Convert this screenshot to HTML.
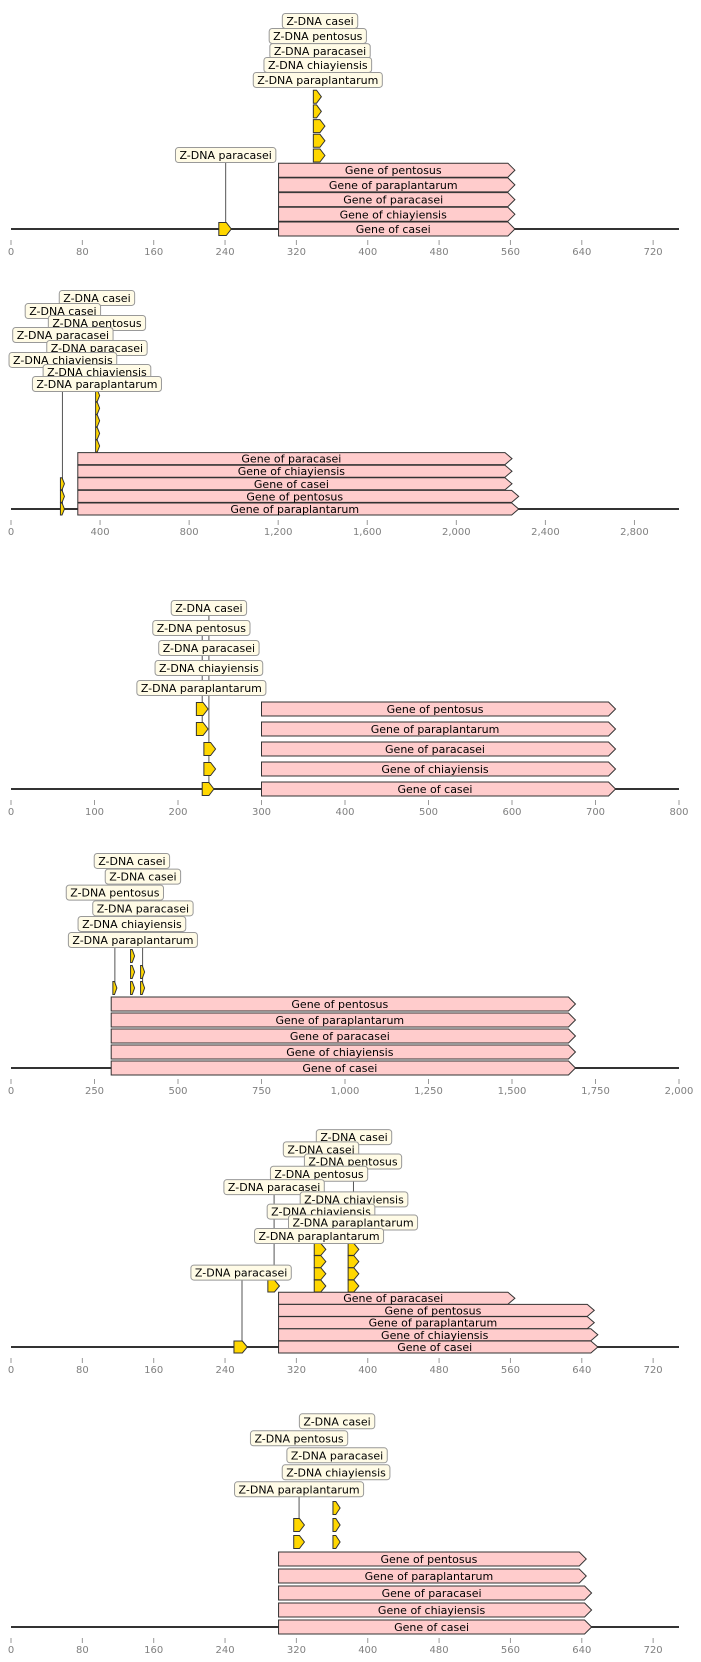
<!DOCTYPE html>
<html><head><meta charset="utf-8">
<style>
html,body{margin:0;padding:0;background:#fff;}
svg{display:block;font-family:"DejaVu Sans","Liberation Sans",sans-serif;}
</style></head>
<body>
<svg id="chart" width="701" height="1662" viewBox="0 0 701 1662" xmlns="http://www.w3.org/2000/svg"></svg>
<script>
// ---------- data ----------
const panelMax = [749, 3000, 800, 2000, 749, 749];
const panelTicks = [
  [0,80,160,240,320,400,480,560,640,720],
  [0,400,800,1200,1600,2000,2400,2800],
  [0,100,200,300,400,500,600,700,800],
  [0,250,500,750,1000,1250,1500,1750,2000],
  [0,80,160,240,320,400,480,560,640,720],
  [0,80,160,240,320,400,480,560,640,720]
];
// genes: [name, start, end, level]
const p1Genes = [["casei",300,565,0],["chiayiensis",300,565,1],["paracasei",300,565,2],["paraplantarum",300,565,3],["pentosus",300,565,4]];
const p2Genes = [["paraplantarum",300,2280,0],["pentosus",300,2280,1],["casei",300,2250,2],["chiayiensis",300,2250,3],["paracasei",300,2250,4]];
const p3Genes = [["casei",300,724,0],["chiayiensis",300,724,1],["paracasei",300,724,2],["paraplantarum",300,724,3],["pentosus",300,724,4]];
const p4Genes = [["casei",300,1690,0],["chiayiensis",300,1690,1],["paracasei",300,1690,2],["paraplantarum",300,1690,3],["pentosus",300,1690,4]];
const p5Genes = [["casei",300,658,0],["chiayiensis",300,658,1],["paraplantarum",300,654,2],["pentosus",300,654,3],["paracasei",300,565,4]];
const p6Genes = [["casei",300,651,0],["chiayiensis",300,651,1],["paracasei",300,651,2],["paraplantarum",300,645,3],["pentosus",300,645,4]];
// Z-DNA features: [start, end, level]
const p1Z = [[233,247,0],[339,352,5],[339,352,6],[339,352,7],[339,348,8],[339,348,9]];
const p2Z = [[222,240,0],[222,240,1],[222,240,2],[380,398,5],[380,398,6],[380,398,7],[380,398,8],[380,398,9]];
const p3Z = [[229,243,0],[231,245,1],[231,245,2],[222,236,3],[222,236,4]];
const p4Z = [[305,317,5],[358,370,5],[358,370,6],[358,370,7],[388,400,5],[388,400,6]];
const p5Z = [[250,265,0],[288,301,5],[340,353,5],[340,353,6],[340,353,7],[340,353,8],[378,390,5],[378,390,6],[378,390,7],[378,390,8]];
const p6Z = [[317,329,5],[317,329,6],[361,369,5],[361,369,6],[361,369,7]];
// labels: [text, centerX, level]
const p1Labels = [["Z-DNA casei",346.5,14.15],["Z-DNA pentosus",344,13.13],["Z-DNA paracasei",346.5,12.1],["Z-DNA chiayiensis",344,11.16],["Z-DNA paraplantarum",344,10.14],["Z-DNA paracasei",240.7,5.03]];
const p2Labels = [["Z-DNA casei",386,16.75],["Z-DNA casei",233,15.71],["Z-DNA pentosus",386,14.76],["Z-DNA paracasei",233,13.81],["Z-DNA paracasei",386,12.78],["Z-DNA chiayiensis",233,11.83],["Z-DNA chiayiensis",386,10.87],["Z-DNA paraplantarum",386,9.92]];
const p3Labels = [["Z-DNA casei",237,9.05],["Z-DNA pentosus",228,8.05],["Z-DNA paracasei",237,7.05],["Z-DNA chiayiensis",237,6.05],["Z-DNA paraplantarum",228,5.05]];
const p4Labels = [["Z-DNA casei",362,12.94],["Z-DNA casei",395,11.96],["Z-DNA pentosus",311,10.96],["Z-DNA paracasei",395,9.98],["Z-DNA chiayiensis",362,9.0],["Z-DNA paraplantarum",365,8.0]];
const p5Labels = [["Z-DNA casei",384.6,17.2],["Z-DNA casei",347.6,16.2],["Z-DNA pentosus",383.5,15.2],["Z-DNA pentosus",345.4,14.2],["Z-DNA paracasei",295,13.1],["Z-DNA chiayiensis",384.6,12.1],["Z-DNA chiayiensis",347.6,11.1],["Z-DNA paraplantarum",383.5,10.2],["Z-DNA paraplantarum",345.4,9.1],["Z-DNA paracasei",258,6.1]];
const p6Labels = [["Z-DNA casei",365.6,12.1],["Z-DNA pentosus",323,11.1],["Z-DNA paracasei",365.6,10.1],["Z-DNA chiayiensis",364.5,9.1],["Z-DNA paraplantarum",323,8.1]];
// connector lines: [x, topLevel, bottomLevel]
const p1Lines = [[240.7,5.03,0]];
const p2Lines = [[231,9.92,0]];
const p3Lines = [[237,9.05,0],[229,8.05,3]];
const p4Lines = [[311,10.96,5],[394,9.98,5]];
const p5Lines = [[259,6.1,0],[295,13.1,5],[384,17.2,5],[346,16.2,5]];
const p6Lines = [[323,8.1,6]];

const panelGenes = [p1Genes,p2Genes,p3Genes,p4Genes,p5Genes,p6Genes];
const panelZ = [p1Z,p2Z,p3Z,p4Z,p5Z,p6Z];
const panelLabels = [p1Labels,p2Labels,p3Labels,p4Labels,p5Labels,p6Labels];
const panelLines = [p1Lines,p2Lines,p3Lines,p4Lines,p5Lines,p6Lines];

// ---------- layout ----------
const layoutBase = [229, 509, 789, 1068, 1347, 1627];
const layoutSpacing = [14.7, 12.6, 20, 16, 12.2, 17];
const layoutBarH = [14, 12, 14, 14, 12, 14];
const X0 = 11, X1 = 679;
const NS = "http://www.w3.org/2000/svg";
const svg = document.getElementById('chart');

function mk(tag, attrs, parent){
  const e = document.createElementNS(NS, tag);
  for (const k in attrs) e.setAttribute(k, attrs[k]);
  (parent||svg).appendChild(e);
  return e;
}
function fmt(v){ return v.toLocaleString('en-US'); }

for (let p = 0; p < 6; p++){
  const xs = v => X0 + v * (X1 - X0) / panelMax[p];
  const ys = l => layoutBase[p] - l * layoutSpacing[p];
  const bh = layoutBarH[p];
  const g = mk('g', {});
  
  

  const ax = mk('line', {x1:X0, x2:X1, y1:ys(0), y2:ys(0), stroke:'#333', 'stroke-width':2}, g);
  
  

  panelTicks[p].forEach(t => {
    const tk = mk('line', {x1:xs(t), x2:xs(t), y1:ys(0)+11, y2:ys(0)+16, stroke:'#999', 'stroke-width':1}, g);
    
    
    const tl = mk('text', {x:xs(t), y:ys(0)+26, 'text-anchor':'middle', 'font-size':10, fill:'#808080'}, g);
    tl.textContent = fmt(t);
    
    
  });

  panelLines[p].forEach(d => {
    const ln = mk('line', {x1:xs(d[0]), x2:xs(d[0]), y1:ys(d[1]), y2:ys(d[2]), stroke:'#555', 'stroke-width':1}, g);
    
    
  });

  panelGenes[p].forEach(d => {
    const x0 = xs(d[1]), x1 = xs(d[2]), yc = ys(d[3]);
    const t = yc - bh/2, b = yc + bh/2, ah = 7;
    const poly = mk('polygon', {points:`${x0},${t} ${x1-ah},${t} ${x1},${yc} ${x1-ah},${b} ${x0},${b}`, fill:'#ffcccc', stroke:'#333', 'stroke-width':1}, g);
    
    
    const tx = mk('text', {x:(x0+x1-ah)/2, y:yc+4, 'text-anchor':'middle', 'font-size':11, fill:'#000'}, g);
    tx.textContent = 'Gene of ' + d[0];
    
    
  });

  panelZ[p].forEach(d => {
    const x0 = xs(d[0]), x1 = xs(d[1]), yc = ys(d[2]);
    const h = Math.min(bh, 13), t = yc - h/2, b = yc + h/2;
    const ah = Math.min(5, (x1-x0)*0.6);
    const poly = mk('polygon', {points:`${x0},${t} ${x1-ah},${t} ${x1},${yc} ${x1-ah},${b} ${x0},${b}`, fill:'#ffd700', stroke:'#333', 'stroke-width':1}, g);
    
    
  });

  panelLabels[p].forEach(d => {
    const cx = xs(d[1]), cy = ys(d[2]);
    const lg = mk('g', {}, g);
    
    
    const rect = mk('rect', {rx:3, ry:3, fill:'#fffbe6', stroke:'#999', 'stroke-width':1}, lg);
    const tx = mk('text', {x:cx, y:cy+4, 'text-anchor':'middle', 'font-size':11, fill:'#000'}, lg);
    tx.textContent = d[0];
    const w = tx.getComputedTextLength() + 8;
    rect.setAttribute('x', cx - w/2);
    rect.setAttribute('y', cy - 7.5);
    rect.setAttribute('width', w);
    rect.setAttribute('height', 15);
  });
}
</script>
</body></html>
